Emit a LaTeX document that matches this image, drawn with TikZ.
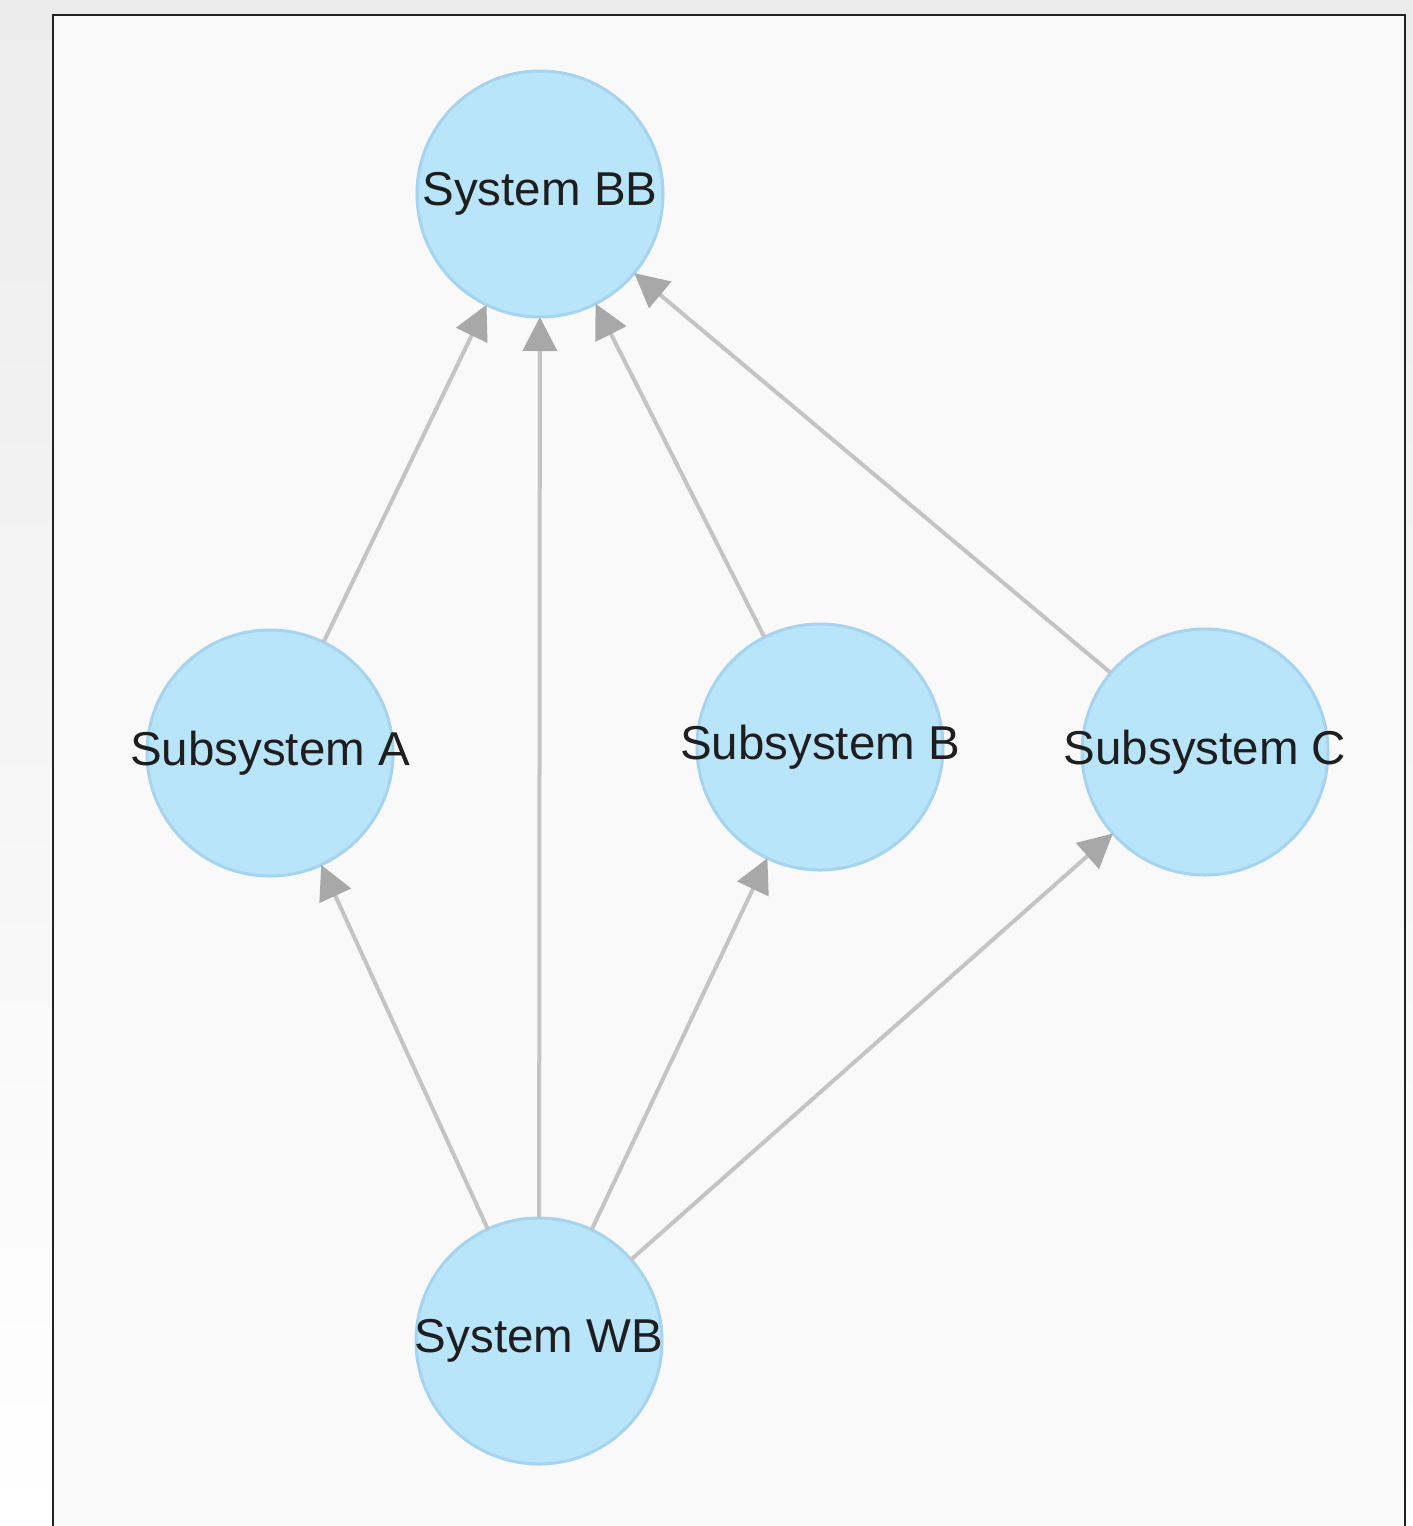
\documentclass[tikz,border=0pt]{standalone}
\usepackage{fontspec}
\setmainfont{Liberation Sans}
\usetikzlibrary{arrows.meta}
\definecolor{pagegray}{HTML}{ECECEC}
\definecolor{panel}{HTML}{F9F9F9}
\definecolor{frameline}{HTML}{222222}
\definecolor{nodefill}{HTML}{B9E5FB}
\definecolor{nodeline}{HTML}{A6D4EE}
\definecolor{edgegray}{HTML}{C4C4C4}
\definecolor{tipgray}{HTML}{A8A8A8}
\definecolor{labeltext}{HTML}{1E1E1E}
\tikzset{
  sysnode/.style={circle, minimum size=123pt, inner sep=0pt, outer sep=0pt,
    fill=nodefill, draw=nodeline, line width=1.5pt},
  syslabel/.style={font=\fontsize{23.75}{28}\selectfont, text=labeltext, inner sep=0pt},
  link/.style={draw=edgegray, line width=2pt,
    -{Triangle[length=17pt,width=17pt,color=tipgray]}},
}
\begin{document}
\begin{tikzpicture}[x=0.5pt,y=-0.5pt]
  \useasboundingbox (0,0) rectangle (1413,1526);
  \clip (0,0) rectangle (1413,1526);
  % page backdrop and the panel
  \shade[top color=pagegray, bottom color=white] (0,0) rectangle (1413,1526);
  \draw[fill=panel, draw=frameline, line width=1.25pt] (53,15) rectangle (1405,1560);

  % nodes
  \node[sysnode, label={[syslabel, name=tBB]center:System BB}] (BB) at (540,194) {};
  \node[sysnode, label={[syslabel, name=tA]center:Subsystem A}] (A) at (270,753) {};
  \node[sysnode, label={[syslabel, name=tB]center:Subsystem B}] (B) at (820,747) {};
  \node[sysnode, label={[syslabel, name=tC]center:Subsystem C}] (C) at (1205,752) {};
  \node[sysnode, label={[syslabel, name=tWB]center:System WB}] (WB) at (539,1341) {};

  % connectors
  \draw[link] (A) -- (BB);
  \draw[link] (WB) -- (BB);
  \draw[link] (B) -- (BB);
  \draw[link] (C) -- (BB);
  \draw[link] (WB) -- (A);
  \draw[link] (WB) -- (B);
  \draw[link] (WB) -- (C);
\end{tikzpicture}
\end{document}
